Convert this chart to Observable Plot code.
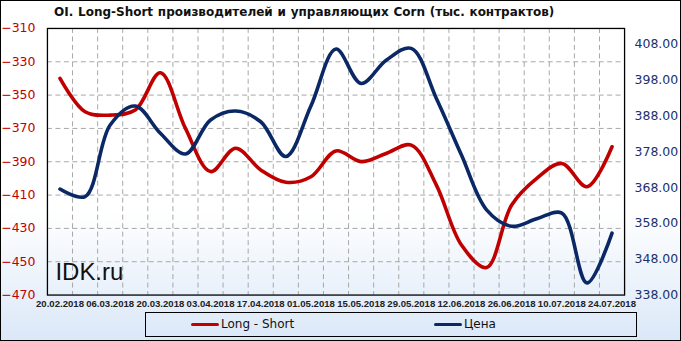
<!DOCTYPE html>
<html>
<head>
<meta charset="utf-8">
<script src="https://cdn.jsdelivr.net/npm/d3@7"></script>
<script src="https://cdn.jsdelivr.net/npm/@observablehq/plot@0.6"></script>
<style>
  html, body { margin: 0; padding: 0; background: #fff; }
  #chart {
    position: relative; width: 681px; height: 341px; box-sizing: border-box;
    border: 1px solid #000; overflow: hidden;
    background: linear-gradient(to bottom, #ffffff 0%, #ffffff 62%, #dbe8f8 100%);
    font-family: "DejaVu Sans", sans-serif;
  }
  #title {
    position: absolute; left: 53px; top: 4px; font-size: 12px; font-weight: bold;
    color: #111; white-space: pre; word-spacing: 0.6px;
  }
  #plot { position: absolute; left: -1px; top: -1px; }
  #legend {
    position: absolute; left: 144px; top: 311px; width: 492px; height: 25px;
    box-sizing: border-box; border: 1px solid #000; font-size: 12px; color: #111;
  }
  .item { position: absolute; top: 4px; display: flex; align-items: center; }
  .sw { width: 28px; height: 3px; border-radius: 2px; margin-right: 2px; }
</style>
</head>
<body>
<div id="chart">
  <div id="plot"></div>
  <div id="title">OI. Long-Short производителей и управляющих Corn (тыс. контрактов)</div>
  <div id="legend">
    <div class="item" style="left:45px"><div class="sw" style="background:#c00000"></div><span>Long - Short</span></div>
    <div class="item" style="left:288px"><div class="sw" style="background:#0b2866"></div><span>Цена</span></div>
  </div>
</div>
<script>
const dates = ["20.02.2018","27.02.2018","06.03.2018","13.03.2018","20.03.2018","27.03.2018","03.04.2018","10.04.2018","17.04.2018","24.04.2018","01.05.2018","08.05.2018","15.05.2018","22.05.2018","29.05.2018","05.06.2018","12.06.2018","19.06.2018","26.06.2018","03.07.2018","10.07.2018","17.07.2018","24.07.2018"];
const longShort = [-340, -360, -362, -359, -336.6, -370, -395.9, -381.9, -394.9, -402.3, -399, -383.5, -389.9, -385, -380, -404, -440, -453.5, -416, -400, -391, -405, -381];
const price = [367.6, 365.5, 385.5, 390.8, 383.2, 377.4, 386.9, 389.4, 386.4, 376.7, 390.8, 406.7, 397.1, 403.6, 406.9, 392.9, 377.1, 361.8, 357.2, 359.3, 360.9, 341.4, 355.3];
const leftTicks = [-310, -330, -350, -370, -390, -410, -430, -450, -470];
const rightTicks = [408, 398, 388, 378, 368, 358, 348, 338];
const leftDomain = [-470, -310];
const rightDomain = [338, 412.46];

const toL = v => leftDomain[0] + (v - rightDomain[0]) * (leftDomain[1] - leftDomain[0]) / (rightDomain[1] - rightDomain[0]);
const fromL = y => rightDomain[0] + (y - leftDomain[0]) * (rightDomain[1] - rightDomain[0]) / (leftDomain[1] - leftDomain[0]);

const data = dates.map((d, i) => ({i, ls: longShort[i], pr: toL(price[i])}));
const labelIdx = d3.range(0, dates.length, 2);
const gridX = d3.range(1, dates.length).map(i => i - 0.5);

const RED = "#c00000", BLUE = "#0b2866";

const plot = Plot.plot({
  width: 681, height: 312,
  marginLeft: 47, marginRight: 56, marginTop: 28, marginBottom: 17,
  style: {background: "transparent", fontFamily: "DejaVu Sans"},
  x: {domain: [-0.5, dates.length - 0.5], axis: null},
  y: {domain: leftDomain, axis: null},
  marks: [
    Plot.ruleY(leftTicks.slice(1, -1), {stroke: "#a8a8a8", strokeDasharray: "5,3.5"}),
    Plot.ruleX(gridX, {stroke: "#a8a8a8", strokeDasharray: "5,3.5"}),
    Plot.frame({stroke: "#000", strokeWidth: 1.3}),
    Plot.line(data, {x: "i", y: "ls", curve: "catmull-rom", stroke: "#666", strokeOpacity: 0.45, strokeWidth: 4, dx: 2, dy: 3, ariaLabel: "shadow"}),
    Plot.line(data, {x: "i", y: "pr", curve: "catmull-rom", stroke: "#666", strokeOpacity: 0.45, strokeWidth: 4, dx: 2, dy: 3, ariaLabel: "shadow"}),
    Plot.line(data, {x: "i", y: "ls", curve: "catmull-rom", stroke: RED, strokeWidth: 3.6}),
    Plot.line(data, {x: "i", y: "pr", curve: "catmull-rom", stroke: BLUE, strokeWidth: 3.6}),
    Plot.axisY({anchor: "left", ticks: leftTicks, tickSize: 0, tickPadding: 12, fill: RED, fontSize: 12.5, label: null}),
    Plot.axisY({anchor: "right", ticks: rightTicks.map(toL), tickFormat: d => fromL(d).toFixed(2), tickSize: 0, tickPadding: 10, fill: "#1a2f6b", fontSize: 12.5, label: null}),
    Plot.axisX({ticks: labelIdx, tickFormat: i => dates[i], tickSize: 0, tickPadding: 5, fontSize: 9.6, fontWeight: "bold", fontFamily: "Liberation Sans", fill: "#222", label: null}),
    Plot.text(["IDK.ru"], {frameAnchor: "bottom-left", dx: 8, dy: -15, fontSize: 24, fontFamily: "Liberation Sans", fill: "#111", lineAnchor: "bottom", textAnchor: "start"})
  ]
});
document.getElementById("plot").appendChild(plot);

// soft blur for shadow lines
const svg = d3.select(plot);
const defs = svg.insert("defs", ":first-child");
defs.append("filter").attr("id", "blur").attr("x", "-5%").attr("y", "-5%").attr("width", "110%").attr("height", "110%")
  .append("feGaussianBlur").attr("stdDeviation", 1.2);
svg.selectAll('g[aria-label="shadow"]').attr("filter", "url(#blur)");
</script>
</body>
</html>
